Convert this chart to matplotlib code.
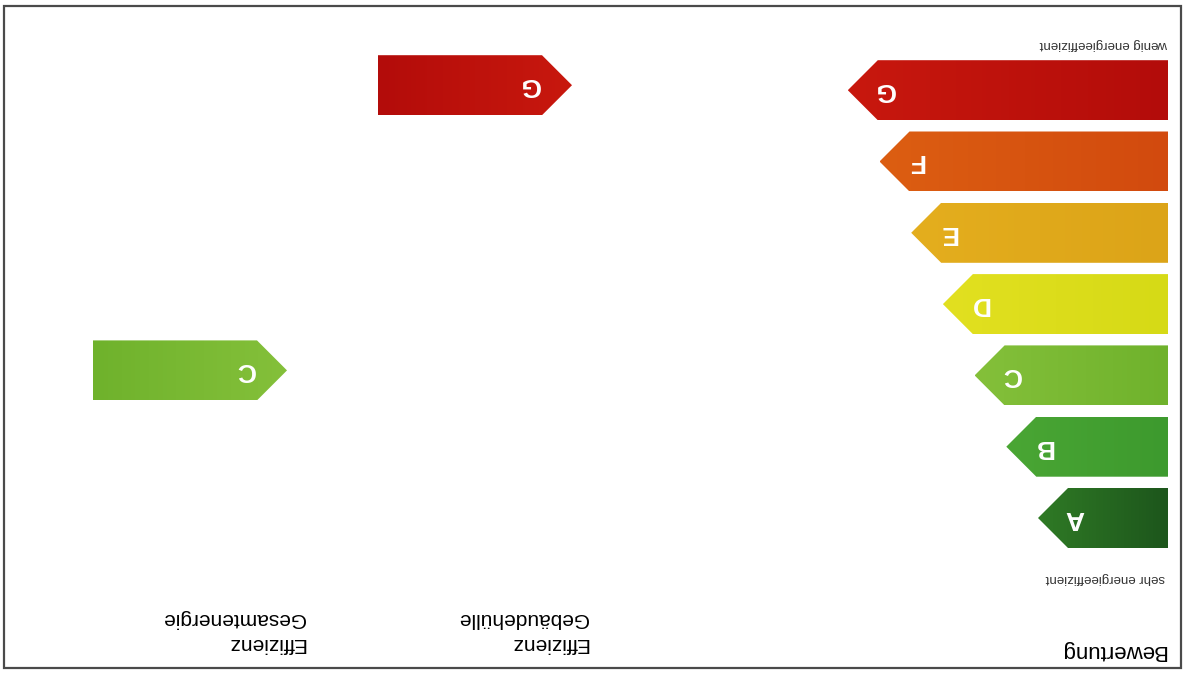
import numpy as np
import matplotlib
matplotlib.use('Agg')
import matplotlib.pyplot as plt
from matplotlib.patches import Polygon, Rectangle
from matplotlib.colors import to_rgb

# energy classes of the scale, best to worst
classes = ['A', 'B', 'C', 'D', 'E', 'F', 'G']
# colour at the back end and at the tip of each arrow
back_colors = ['#1d561c', '#3d9a2e', '#6fb22c', '#d6da16', '#dca418', '#d24a0e', '#b30c0a']
tip_colors = ['#2f7a25', '#4aa634', '#84c03a', '#e2e020', '#e4ae1e', '#dc5e12', '#c8180e']

# column headers
scale_title = 'Bewertung'
top_note = 'sehr energieeffizient'
bottom_note = 'wenig energieeffizient'
col_titles = ['Effizienz\nGebäudehülle', 'Effizienz\nGesamtenergie']
# rating of each column
col_ratings = ['G', 'C']

plt.rcParams['font.family'] = ['Liberation Sans', 'DejaVu Sans']

W, H = 1185, 675
fig = plt.figure(figsize=(W / 100, H / 100), dpi=100)
ax = fig.add_axes([0, 0, 1, 1])
# the whole label is scanned upside down
ax.set_xlim(W, 0)
ax.set_ylim(0, H)
ax.axis('off')

# layout
row0 = 157          # centre of row A
row_step = 71.3
bar_h = 60
scale_x0 = 17
scale_len0 = 130
scale_step = 31.7
point = 30
col_back = [807, 1092]
col_len = 194


def row_y(cls):
    return row0 + classes.index(cls) * row_step


def arrow(x_back, x_tip, yc, c_back, c_tip, label, label_off):
    d = 1 if x_tip > x_back else -1
    y0, y1 = yc - bar_h / 2, yc + bar_h / 2
    pts = [(x_back, y0), (x_tip - d * point, y0), (x_tip, yc),
           (x_tip - d * point, y1), (x_back, y1)]
    poly = Polygon(pts, closed=True, facecolor='none', edgecolor='none')
    ax.add_patch(poly)
    n = 64
    grad = np.linspace(0, 1, n)[None, :, None]
    img = (1 - grad) * np.array(to_rgb(c_back)) + grad * np.array(to_rgb(c_tip))
    im = ax.imshow(img, extent=(x_back, x_tip, y0, y1), aspect='auto',
                   interpolation='bilinear', zorder=2)
    im.set_clip_path(poly)
    ax.text(x_tip - d * label_off, yc, label, color='white', fontsize=19,
            fontweight='bold', ha='center', va='center', rotation=180, zorder=3)


# the scale
for i, cls in enumerate(classes):
    tip = scale_x0 + scale_len0 + i * scale_step
    arrow(scale_x0, tip, row_y(cls), back_colors[i], tip_colors[i], cls, 37)

# indicator arrows pointing back to the scale
for xb, r in zip(col_back, col_ratings):
    i = classes.index(r)
    arrow(xb, xb - col_len, row_y(r) + 5, back_colors[i], tip_colors[i], r, 42)

# texts
ax.text(19, 25, scale_title, fontsize=16, ha='right', va='center', rotation=180)
ax.text(20, 97, top_note, fontsize=9.5, ha='right', va='center', rotation=180,
        color='#333333')
ax.text(17, 631, bottom_note, fontsize=9.5, ha='right', va='center', rotation=180,
        color='#333333')
for xb, t in zip([597, 880], col_titles):
    ax.text(xb, 44, t, fontsize=15, ha='right', va='center', rotation=180,
            multialignment='left', linespacing=1.4)

# frame of the scanned form
ax.add_patch(Rectangle((4, 7), 1177, 662, fill=False, edgecolor='#4a4a4a',
                       linewidth=1.6, zorder=4))

fig.savefig('out.png', dpi=100)
